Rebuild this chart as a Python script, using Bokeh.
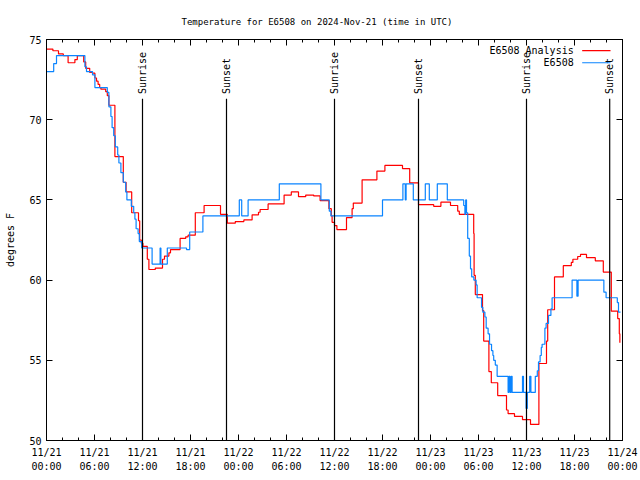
import math
from bokeh.plotting import figure
from bokeh.models import Range1d, FixedTicker, LinearAxis, Label, Arrow
from bokeh.core.properties import value
from bokeh.embed import file_html
from bokeh.resources import INLINE

FONT = "DejaVu Sans Mono"
FS = "10px"
TITLE_FS = "9px"

title_text = "Temperature for E6508 on 2024-Nov-21 (time in UTC)"
y_label = "degrees F"

# hours since 2024-11-21 00:00 UTC
analysis_hours = [0, 0.8, 1.5, 2.1, 2.7, 3.55, 3.85, 4.65, 4.9, 5.4, 5.75, 6.05, 6.25, 6.45,
                  6.65, 6.8, 7.4, 7.6, 7.8, 8.55, 9.6, 9.95, 10.65, 11.5, 11.65, 11.85, 12.05,
                  12.6, 12.8, 13.6, 14.5, 14.75, 15.3, 15.5, 16.7, 17.4, 17.7, 18.6, 19.7,
                  21.75, 22.6, 23.6, 24.67, 25.7, 26.5, 26.7, 27.7, 29.7, 30.6, 31.5, 32.4,
                  33.4, 34.2, 35.3, 35.6, 35.7, 36.0, 36.3, 37.5, 38.2, 38.35, 39.45, 41.3,
                  42.3, 44.5, 45.4, 46.5, 48.4, 49.3, 50.5, 51.4, 51.6, 53.4, 53.45, 53.6,
                  54.5, 54.65, 55.3, 55.6, 56.4, 57.5, 57.7, 58.5, 59.5, 60.5, 61.55, 62.5,
                  62.65, 63.5, 64.6, 65.6, 65.8, 66.4, 66.75, 67.5, 68.6, 69.6, 70.6, 71.4,
                  71.6, 71.67]
analysis_temp = [74.4, 74.3, 74.1, 74.0, 73.55, 73.75, 74.0, 73.6, 73.2, 72.95, 72.9, 72.6,
                 72.4, 72.2, 72.0, 71.9, 71.75, 71.5, 70.9, 67.7, 66.1, 65.5, 64.2, 63.7,
                 62.5, 62.3, 62.1, 61.3, 60.66, 60.75, 61.3, 61.5, 61.7, 61.9, 62.6, 62.7,
                 62.8, 64.2, 64.65, 64.1, 63.55, 63.65, 63.75, 64.07, 64.23, 64.4, 64.75,
                 65.3, 65.5, 65.2, 65.3, 65.25, 64.96, 64.45, 64.0, 63.6, 63.4, 63.15, 63.9,
                 64.45, 64.8, 66.25, 66.8, 67.15, 66.95, 66.06, 64.7, 64.6, 64.86, 64.65,
                 64.3, 64.1, 62.9, 60.3, 59.1, 58.1, 56.2, 54.3, 53.6, 52.8, 51.9, 51.67,
                 51.5, 51.3, 51.0, 54.8, 56.2, 58.15, 60.2, 60.9, 61.1, 61.3, 61.47, 61.6,
                 61.4, 61.2, 60.5, 58.06, 57.6, 56.65, 56.1]

obs_hours = [0, 0.9, 1.25, 4.8, 5.0, 5.75, 6.05, 7.6, 7.8, 8.05, 8.2, 8.4, 8.6, 8.9, 9.05,
             9.3, 9.6, 9.9, 10.05, 10.6, 10.9, 11.05, 11.2, 11.45, 11.6, 11.9, 13.2, 14.2,
             14.3, 15.1, 17.5, 17.9, 19.55, 24.1, 24.4, 25.2, 29.1, 34.3, 35.35, 35.55,
             42.0, 44.55, 44.85, 44.95, 45.85, 47.35, 47.85, 48.85, 50.1, 52.15, 52.3, 52.4,
             52.5, 52.65, 52.85, 53.0, 53.15, 53.42, 53.7, 53.83, 54.38, 54.54, 54.8, 54.96,
             55.2, 55.38, 55.63, 55.8, 55.9, 56.1, 56.33, 57.7, 57.8, 57.95, 58.1, 58.2,
             59.5, 59.62, 59.95, 60.1, 60.4, 60.55, 61.1, 61.35, 61.5, 61.7, 61.85, 61.95,
             62.3, 62.45, 62.75, 63.05, 63.2, 65.7, 66.3, 66.45, 69.67, 69.95, 71.35, 71.5,
             71.75]
obs_temp = [73.0, 73.5, 74.0, 73.3, 73.0, 72.8, 72.0, 71.7, 70.8, 70.2, 69.5, 69.0, 68.3,
            67.8, 67.3, 66.7, 66.1, 65.5, 65.0, 64.6, 64.2, 63.8, 63.2, 62.9, 62.4, 62.0,
            61.0, 62.0, 61.0, 62.0, 61.9, 63.0, 64.0, 65.0, 64.0, 65.0, 66.0, 65.0, 64.3,
            64.0, 65.0, 66.0, 65.0, 66.0, 65.0, 66.0, 65.0, 66.0, 65.0, 64.65, 64.1, 65.0,
            64.2, 62.6, 61.5, 60.7, 60.2, 60.0, 59.7, 58.9, 58.3, 58.0, 57.7, 57.0, 56.65,
            56.0, 55.6, 55.3, 55.0, 54.7, 54.0, 53.0, 54.0, 53.0, 54.0, 53.0, 54.0, 53.0,
            52.0, 53.0, 54.0, 53.0, 54.0, 54.35, 54.9, 55.3, 55.8, 56.0, 57.0, 57.3, 57.8,
            58.2, 58.9, 60.0, 59.0, 60.0, 59.25, 58.9, 58.6, 58.0, 58.0]

sun_hours = [12.0, 22.5, 36.0, 46.5, 60.0, 70.4]
sun_labels = ["Sunrise", "Sunset", "Sunrise", "Sunset", "Sunrise", "Sunset"]

x_tick_hours = [0, 6, 12, 18, 24, 30, 36, 42, 48, 54, 60, 66, 72]
x_tick_labels = ["11/21\n00:00", "11/21\n06:00", "11/21\n12:00", "11/21\n18:00",
                 "11/22\n00:00", "11/22\n06:00", "11/22\n12:00", "11/22\n18:00",
                 "11/23\n00:00", "11/23\n06:00", "11/23\n12:00", "11/23\n18:00",
                 "11/24\n00:00"]
x_minor_hours = list(range(0, 73, 2))
y_ticks = [50, 55, 60, 65, 70, 75]

series_names = ["E6508 Analysis", "E6508"]
series_colors = ["#ff0000", "#0a84ff"]

p = figure(width=640, height=480, output_backend="svg", toolbar_location=None,
           x_range=Range1d(0, 72), y_range=Range1d(50, 75),
           min_border_left=46, min_border_right=18, min_border_top=39, min_border_bottom=40)
p.title.text = title_text
p.title.align = "left"
p.title.offset = 135
p.title.text_font = FONT
p.title.text_font_size = TITLE_FS
p.title.text_font_style = "normal"
p.title.text_color = "black"
p.title.standoff = 25

p.xgrid.visible = False
p.ygrid.visible = False
p.outline_line_color = "black"
p.outline_line_width = 1
p.background_fill_color = "white"
p.border_fill_color = "white"

xa = p.xaxis[0]
xa.ticker = FixedTicker(ticks=x_tick_hours, minor_ticks=x_minor_hours)
xa.major_label_overrides = {h: lab for h, lab in zip(x_tick_hours, x_tick_labels)}
ya = p.yaxis[0]
ya.ticker = FixedTicker(ticks=y_ticks, minor_ticks=[])
ya.axis_label = y_label

for ax in (xa, ya):
    ax.major_tick_in = 6
    ax.major_tick_out = 0
    ax.minor_tick_in = 3
    ax.minor_tick_out = 0
    ax.major_label_text_font = FONT
    ax.major_label_text_font_size = FS
    ax.major_label_text_color = "black"
    ax.axis_line_color = "black"
    ax.major_tick_line_color = "black"
    ax.minor_tick_line_color = "black"
    ax.axis_label_text_font = FONT
    ax.axis_label_text_font_size = FS
    ax.axis_label_text_font_style = "normal"
    ax.axis_label_text_color = "black"
xa.major_label_standoff = 6
xa.major_label_text_line_height = 1.3
ya.major_label_standoff = 5
ya.axis_label_standoff = 10

# mirrored ticks (no labels)
top = LinearAxis(ticker=FixedTicker(ticks=x_tick_hours, minor_ticks=x_minor_hours))
right = LinearAxis(ticker=FixedTicker(ticks=y_ticks, minor_ticks=[]))
top.major_label_overrides = {h: "" for h in x_tick_hours}
right.major_label_overrides = {t: "" for t in y_ticks}
for ax in (top, right):
    ax.major_tick_in = 6
    ax.major_tick_out = 0
    ax.minor_tick_in = 3
    ax.minor_tick_out = 0
    ax.major_label_standoff = 0
    ax.axis_line_color = "black"
p.add_layout(top, "above")
p.add_layout(right, "right")

# data
p.step(analysis_hours, analysis_temp, mode="after", line_color=series_colors[0], line_width=1.2)
p.step(obs_hours, obs_temp, mode="after", line_color=series_colors[1], line_width=1.2)

# sunrise / sunset markers
p.segment(x0=sun_hours, y0=[50] * len(sun_hours), x1=sun_hours, y1=[71.3] * len(sun_hours),
          line_color="black", line_width=1.2)
p.text(x=sun_hours, y=[71.6] * len(sun_hours), text=sun_labels, angle=math.pi / 2,
       text_align="left", text_baseline="middle", text_font=value(FONT),
       text_font_size=value(FS), text_color="black")

# key (gnuplot style: label then sample)
key_y = [74.31, 73.55]
for name, col, ky in zip(series_names, series_colors, key_y):
    p.add_layout(Label(x=65.9, y=ky, text=name, text_align="right", text_baseline="middle",
                       text_font=FONT, text_font_size=FS, text_color="black"))
    p.add_layout(Arrow(x_start=66.96, y_start=ky, x_end=70.5, y_end=ky, end=None,
                       line_color=col, line_width=1.2))

open("out.html", "w").write(file_html(p, INLINE))
